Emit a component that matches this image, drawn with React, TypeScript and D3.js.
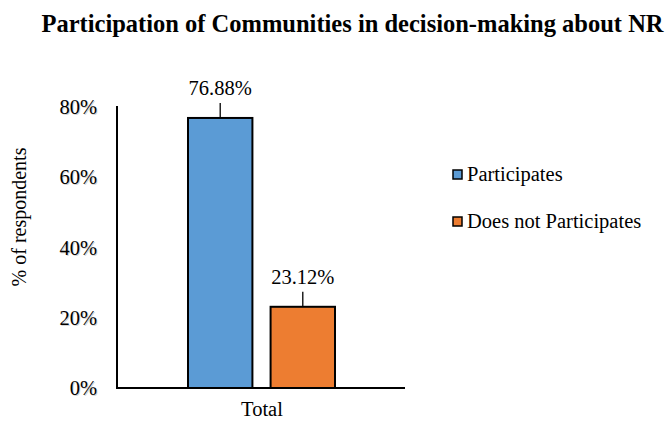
import React from "react";
import * as d3 from "d3";

const categories = ["Total"];
const seriesNames = ["Participates", "Does not Participates"];
const seriesValues = [76.88, 23.12];
const seriesColors = ["#5B9BD5", "#ED7D31"];
const yTicks = [0, 20, 40, 60, 80];

const W = 666;
const H = 421;
const font = "'Liberation Serif', 'Times New Roman', Times, serif";

export default function App() {
  const y = d3.scaleLinear().domain([0, 80]).range([388, 107]);
  const x0 = d3.scaleBand().domain(categories).range([117, 405]);
  const x1 = d3.scaleBand().domain(seriesNames).range([71, 218]).paddingInner(0.22);

  return (
    <svg width={W} height={H} style={{ position: "absolute", left: 0, top: 0, fontFamily: font }}>
      <text x={352.5} y={32} textAnchor="middle" fontSize={24.5} fontWeight="bold" fill="#000">
        Participation of Communities in decision-making about NR
      </text>
      <text transform={`translate(26,217) rotate(-90)`} textAnchor="middle" fontSize={20} fill="#000">
        % of respondents
      </text>
      {yTicks.map((t) => (
        <g key={t}>
          <text x={98} y={y(t) + 8} textAnchor="end" fontSize={20.5} fill="#d6d6d6">
            {t}%
          </text>
          <text x={97} y={y(t) + 7} textAnchor="end" fontSize={20.5} fill="#000">
            {t}%
          </text>
        </g>
      ))}
      {categories.map((c) => (
        <g key={c}>
          {seriesNames.map((s, i) => {
            const bx = (x0(c) as number) + (x1(s) as number);
            const bw = x1.bandwidth();
            const top = y(seriesValues[i]);
            const cx = bx + bw / 2;
            return (
              <g key={s}>
                <rect x={bx} y={top} width={bw} height={y(0) - top} fill={seriesColors[i]} stroke="#000" strokeWidth={2} />
                <line x1={cx} x2={cx} y1={top - 15} y2={top} stroke="#000" strokeWidth={1.3} />
                <text x={cx} y={top - 23} textAnchor="middle" fontSize={20.5} fill="#000">
                  {seriesValues[i].toFixed(2)}%
                </text>
              </g>
            );
          })}
          <text x={(x0(c) as number) + x0.bandwidth() / 2 + 1} y={416} textAnchor="middle" fontSize={20.5} fill="#000">
            {c}
          </text>
        </g>
      ))}
      <line x1={117} x2={117} y1={106} y2={389} stroke="#000" strokeWidth={2} />
      <line x1={116} x2={405} y1={388} y2={388} stroke="#000" strokeWidth={2} />
      {seriesNames.map((s, i) => (
        <g key={s} transform={`translate(453,${170 + i * 47})`}>
          <rect x={0} y={0} width={9} height={9} fill={seriesColors[i]} stroke="#000" strokeWidth={1.5} />
          <text x={14} y={10.5} fontSize={20.5} fill="#000">
            {s}
          </text>
        </g>
      ))}
    </svg>
  );
}
